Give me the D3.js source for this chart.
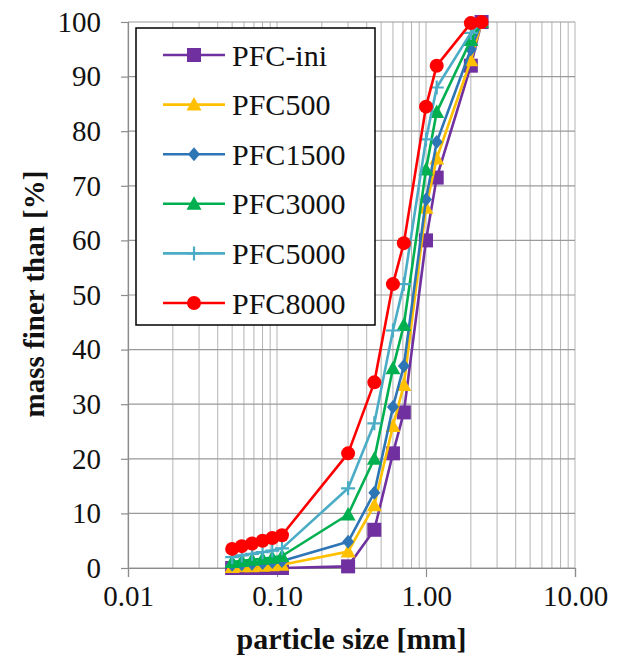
<!DOCTYPE html>
<html>
<head>
<meta charset="utf-8">
<script src="https://cdn.jsdelivr.net/npm/d3@7"></script>
<style>
  html, body { margin: 0; padding: 0; background: #fff; }
  svg { display: block; }
</style>
</head>
<body>
<svg id="chart" width="627" height="659"></svg>
<script>
// ---------- data ----------
const sizes = [0.05, 0.058, 0.068, 0.08, 0.093, 0.108, 0.3, 0.45, 0.6, 0.71, 1.0, 1.18, 2.0, 2.36];
const seriesNames = ["PFC-ini", "PFC500", "PFC1500", "PFC3000", "PFC5000", "PFC8000"];
const pfcIni  = [0, 0, 0, 0, 0, 0, 0.3, 7, 21, 28.5, 60, 71.5, 92, 100];
const pfc500  = [0.2, 0.3, 0.3, 0.4, 0.5, 0.6, 3, 11.5, 26, 33.5, 66, 75, 93, 100];
const pfc1500 = [0.6, 0.7, 0.8, 0.9, 1.1, 1.3, 4.8, 13.8, 29.5, 37, 67.5, 78, 95, 100];
const pfc3000 = [1.1, 1.3, 1.5, 1.7, 1.9, 2.2, 9.8, 20, 36.6, 44.5, 73, 83.5, 96.7, 100];
const pfc5000 = [2.0, 2.3, 2.6, 2.9, 3.2, 3.6, 14.6, 26.5, 43.5, 52, 78.5, 88, 98, 100];
const pfc8000 = [3.5, 4.0, 4.5, 5.0, 5.5, 6.0, 21, 34, 52, 59.5, 84.5, 92, 99.8, 100];
const seriesValues = [pfcIni, pfc500, pfc1500, pfc3000, pfc5000, pfc8000];
const xTickValues = [0.01, 0.1, 1, 10];
const xTickLabels = ["0.01", "0.10", "1.00", "10.00"];
const yTickValues = [0, 10, 20, 30, 40, 50, 60, 70, 80, 90, 100];
const xTitle = "particle size [mm]";
const yTitle = "mass finer than [%]";

// ---------- styles ----------
const colors  = ["#7030A0", "#FFC000", "#2E75B6", "#00B050", "#4BACC6", "#FF0000"];
const markers = ["square", "triangle", "diamond", "triangle", "plus", "circle"];

const svg = d3.select("#chart");
const pLeft = 128, pRight = 575, pTop = 22, pBottom = 568;
const x = d3.scaleLog().domain([0.01, 10]).range([pLeft, pRight]);
const y = d3.scaleLinear().domain([0, 100]).range([pBottom, pTop]);

const serif = "Liberation Serif, Times New Roman, serif";

// grid
const gridX = x.ticks(40).filter(v => v >= 0.01 && v <= 10);
svg.append("g").selectAll("line").data(gridX).join("line")
  .attr("x1", d => x(d)).attr("x2", d => x(d))
  .attr("y1", pTop).attr("y2", pBottom)
  .attr("stroke", "#b4b4b4").attr("stroke-width", 1);
svg.append("g").selectAll("line").data(yTickValues).join("line")
  .attr("x1", pLeft).attr("x2", pRight)
  .attr("y1", d => y(d)).attr("y2", d => y(d))
  .attr("stroke", "#9a9a9a").attr("stroke-width", 1.2);

// axes
const xAxis = d3.axisBottom(x).tickValues(xTickValues)
  .tickFormat((d, i) => xTickLabels[i]).tickSize(9).tickPadding(8);
const gx = svg.append("g").attr("transform", `translate(0,${pBottom})`).call(xAxis);
gx.attr("font-family", null).attr("font-size", null);
gx.select(".domain").attr("stroke", "#8c8c8c").attr("stroke-width", 1.2);
gx.selectAll(".tick line").attr("stroke", "#8c8c8c").attr("stroke-width", 1.2);
gx.selectAll(".tick text").style("font-family", serif).style("font-size", "29px")
  .attr("fill", "#111");

const yAxis = d3.axisLeft(y).tickValues(yTickValues).tickSize(7).tickPadding(20);
const gy = svg.append("g").attr("transform", `translate(${pLeft},0)`).call(yAxis);
gy.attr("font-family", null).attr("font-size", null);
gy.select(".domain").attr("stroke", "#8c8c8c").attr("stroke-width", 1.2);
gy.selectAll(".tick line").attr("stroke", "#8c8c8c").attr("stroke-width", 1.2);
gy.selectAll(".tick text").style("font-family", serif).style("font-size", "29px")
  .attr("fill", "#111");

// titles
svg.append("text").attr("x", (pLeft + pRight) / 2).attr("y", 649)
  .attr("text-anchor", "middle").style("font-family", serif)
  .attr("font-weight", "bold").style("font-size", "30px").attr("fill", "#111")
  .text(xTitle);
svg.append("text").attr("transform", `translate(44,294) rotate(-90)`)
  .attr("text-anchor", "middle").style("font-family", serif)
  .attr("font-weight", "bold").style("font-size", "29px").attr("fill", "#111")
  .text(yTitle);

// marker drawer
function drawMarker(g, type, color, cx, cy) {
  if (type === "square") {
    g.append("rect").attr("x", cx - 7).attr("y", cy - 7).attr("width", 14).attr("height", 14)
      .attr("fill", color);
  } else if (type === "triangle") {
    g.append("path").attr("d", `M${cx},${cy - 7.5}L${cx + 7.5},${cy + 6}L${cx - 7.5},${cy + 6}Z`)
      .attr("fill", color);
  } else if (type === "diamond") {
    g.append("path").attr("d", `M${cx},${cy - 7}L${cx + 6},${cy}L${cx},${cy + 7}L${cx - 6},${cy}Z`)
      .attr("fill", color);
  } else if (type === "plus") {
    g.append("path").attr("d", `M${cx - 7},${cy}H${cx + 7}M${cx},${cy - 7}V${cy + 7}`)
      .attr("stroke", color).attr("stroke-width", 2.2).attr("fill", "none");
  } else if (type === "circle") {
    g.append("circle").attr("cx", cx).attr("cy", cy).attr("r", 7).attr("fill", color);
  }
}

// series
const line = d3.line().x(d => x(d[0])).y(d => y(d[1]));
seriesValues.forEach((vals, si) => {
  const pts = sizes.map((s, i) => [s, vals[i]]);
  const g = svg.append("g");
  g.append("path").datum(pts).attr("d", line)
    .attr("fill", "none").attr("stroke", colors[si]).attr("stroke-width", 2.6)
    .attr("stroke-linejoin", "round");
  pts.forEach(p => drawMarker(g, markers[si], colors[si], x(p[0]), y(p[1])));
});

// legend
const lg = svg.append("g");
lg.append("rect").attr("x", 136).attr("y", 28).attr("width", 239).attr("height", 297)
  .attr("fill", "#fff").attr("stroke", "#000").attr("stroke-width", 1.5);
seriesNames.forEach((name, i) => {
  const ly = 55 + i * 49.6;
  lg.append("line").attr("x1", 163).attr("x2", 225).attr("y1", ly).attr("y2", ly)
    .attr("stroke", colors[i]).attr("stroke-width", 2.6);
  drawMarker(lg, markers[i], colors[i], 194, ly);
  lg.append("text").attr("x", 232).attr("y", ly).attr("dy", "0.35em")
    .style("font-family", serif).style("font-size", "30px").attr("fill", "#111")
    .text(name);
});
</script>
</body>
</html>
